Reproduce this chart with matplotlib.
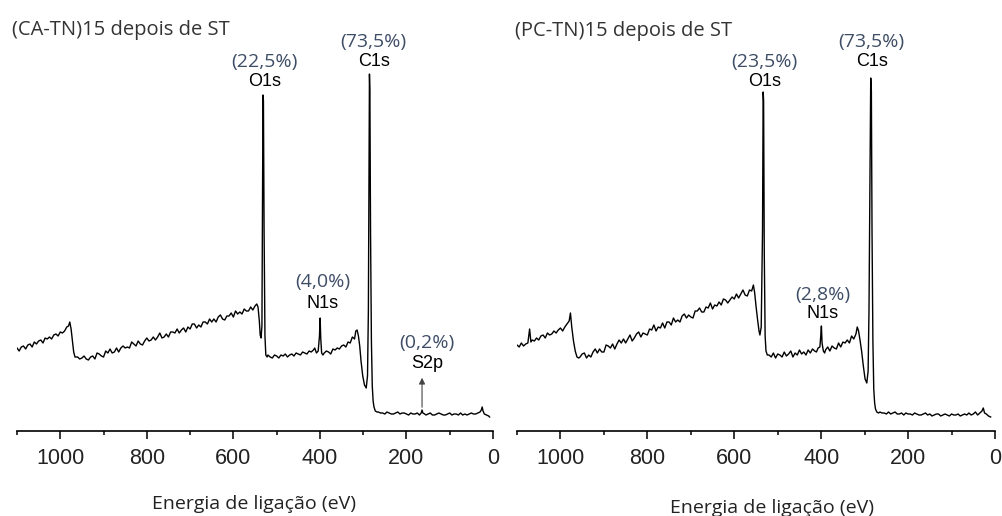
import matplotlib.pyplot as plt

# (CA-TN)15 spectrum: binding energy (eV) and intensity (a.u.)
ca_energy = [1100, 1095, 1090, 1085, 1080, 1075, 1070, 1065, 1060, 1055, 1050, 1045, 1040, 1035, 1030,
             1025, 1020, 1015, 1010, 1005, 1000, 995, 990, 985, 981, 978, 975, 972, 969, 966,
             960, 955, 950, 945, 940, 935, 930, 925, 920, 915, 910, 905, 900, 895, 890, 885, 880, 875,
             870, 865, 860, 855, 850, 845, 840, 835, 830, 825, 820, 815, 810, 805, 800, 795, 790, 785,
             780, 775, 770, 765, 760, 755, 750, 745, 740, 735, 730, 725, 720, 715, 710, 705, 700, 695,
             690, 685, 680, 675, 670, 665, 660, 655, 650, 645, 640, 635, 630, 625, 620, 615, 610, 605,
             600, 595, 590, 585, 580, 575, 570, 565, 560, 555, 550, 546, 543, 540, 538, 536, 534,
             532.5, 531.5, 530.5, 529, 527, 525, 522,
             520, 515, 510, 505, 500, 495, 490, 485, 480, 475, 470, 465, 460, 455, 450, 445, 440, 435,
             430, 425, 420, 415, 412, 408, 404, 401, 399.5, 398, 396, 393,
             390, 385, 380, 375, 370, 365, 360, 355, 350, 345, 340, 335, 330, 325, 320, 317, 314, 311,
             308, 305, 301, 297, 293, 290, 288, 286.5, 285.5, 284.5, 283, 281, 279, 277, 275, 272, 268,
             265, 260, 255, 250, 245, 240, 235, 230, 225, 220, 215, 210, 205, 200, 195, 190, 185, 180,
             175, 170, 166, 164, 162, 158, 155, 150, 145, 140, 135, 130, 125, 120, 115, 110, 105, 100,
             95, 90, 85, 80, 75, 70, 65, 60, 55, 50, 45, 40, 35, 30, 27, 25, 23, 20, 15, 10, 8]
ca_counts = [83, 80, 84, 85, 82, 86, 87, 84, 89, 87, 90, 91, 88, 93, 92,
             94, 92, 96, 97, 95, 99, 98, 100, 104, 105, 109, 102, 90, 79, 74,
             74, 72, 73, 75, 72, 71, 74, 75, 72, 78, 77, 75, 74, 80, 78, 82, 78, 79,
             83, 79, 83, 85, 83, 84, 83, 89, 87, 85, 90, 87, 86, 90, 93, 90, 91, 94,
             91, 94, 98, 93, 94, 97, 94, 99, 99, 98, 102, 98, 101, 103, 99, 104, 102, 107,
             107, 103, 106, 104, 109, 109, 107, 112, 109, 112, 109, 114, 116, 112, 111, 115, 115, 118,
             114, 120, 117, 119, 117, 122, 120, 120, 124, 121, 125, 127, 124, 110, 96, 93, 105,
             250, 336, 330, 200, 95, 76, 74,
             76, 74, 73, 76, 75, 73, 76, 75, 77, 74, 76, 77, 75, 78, 77, 76, 79, 78,
             77, 80, 79, 81, 83, 78, 80, 95, 113, 92, 78, 76,
             78, 80, 79, 77, 82, 81, 83, 82, 85, 86, 84, 89, 88, 94, 92, 100, 101, 95,
             85, 70, 55, 46, 43, 55, 120, 250, 357, 340, 200, 90, 45, 30, 24, 20, 19,
             19, 18, 18, 17, 19, 18, 17, 17, 18, 19, 17, 18, 18, 17, 16, 18, 17, 17,
             18, 16, 18, 21, 18, 17, 16, 17, 18, 16, 16, 17, 18, 17, 16, 16, 17, 18,
             16, 17, 17, 16, 18, 16, 17, 16, 17, 18, 17, 17, 18, 19, 21, 24, 20, 17, 16, 15, 14]

# (PC-TN)15 spectrum
pc_energy = [1100, 1095, 1090, 1085, 1080, 1075, 1071, 1068, 1065, 1060, 1055, 1050, 1045, 1040, 1035,
             1030, 1025, 1020, 1015, 1010, 1005, 1000, 995, 990, 985, 980, 977, 974, 970, 966, 962, 958,
             955, 950, 945, 940, 935, 930, 925, 920, 915, 910, 905, 900, 895, 890, 885, 880, 875,
             870, 865, 860, 855, 850, 845, 840, 835, 830, 825, 820, 815, 810, 805, 800, 795, 790, 785,
             780, 775, 770, 765, 760, 755, 750, 745, 740, 735, 730, 725, 720, 715, 710, 705, 700, 695,
             690, 685, 680, 675, 670, 665, 660, 655, 650, 645, 640, 635, 630, 625, 620, 615, 610, 605,
             600, 595, 590, 585, 580, 575, 570, 565, 560, 556, 553, 550, 546, 543, 541, 538,
             535, 533.5, 532.5, 531, 529, 527, 524,
             520, 515, 510, 505, 500, 495, 490, 485, 480, 475, 470, 465, 460, 455, 450, 445, 440, 435,
             430, 425, 420, 415, 411, 407, 403, 401, 399.5, 398, 395, 392,
             390, 385, 380, 375, 370, 365, 360, 355, 350, 345, 340, 335, 330, 325, 320, 317, 314, 311,
             307, 303, 299, 295, 292, 290, 288, 286, 284.5, 283, 281, 279, 277, 275, 272, 268,
             265, 260, 255, 250, 245, 240, 235, 230, 225, 220, 215, 210, 205, 200, 195, 190, 185, 180,
             175, 170, 165, 160, 155, 150, 145, 140, 135, 130, 125, 120, 115, 110, 105, 100,
             95, 90, 85, 80, 75, 70, 65, 60, 55, 50, 45, 40, 35, 30, 27, 24, 20, 15, 10]
pc_counts = [86, 84, 88, 85, 87, 88, 102, 89, 91, 90, 93, 91, 95, 96, 93,
             98, 96, 97, 100, 98, 101, 103, 100, 104, 107, 110, 118, 104, 90, 80, 74, 73,
             74, 77, 78, 73, 76, 74, 79, 82, 78, 82, 79, 79, 86, 85, 83, 87, 82,
             87, 91, 88, 92, 88, 92, 96, 90, 93, 97, 99, 94, 98, 97, 96, 102, 101, 106,
             100, 104, 103, 108, 103, 109, 109, 106, 113, 109, 111, 109, 115, 117, 113, 116, 114, 113,
             120, 120, 123, 119, 119, 124, 123, 128, 122, 126, 125, 129, 126, 132, 131, 128, 131, 134,
             132, 137, 133, 137, 141, 136, 135, 141, 140, 146, 138, 125, 110, 100, 96, 104,
             200, 339, 330, 180, 95, 80, 76,
             76, 74, 78, 73, 77, 76, 74, 79, 75, 77, 80, 74, 78, 76, 81, 77, 79, 76,
             81, 78, 82, 80, 79, 83, 84, 95, 105, 88, 80, 78,
             81, 84, 80, 85, 83, 82, 88, 84, 89, 88, 91, 88, 95, 92, 97, 104, 100, 92,
             80, 65, 52, 48, 60, 120, 230, 353, 340, 200, 90, 42, 28, 22, 19, 18,
             19, 18, 18, 17, 19, 17, 18, 19, 17, 17, 18, 16, 18, 17, 17, 16, 18, 17,
             16, 16, 17, 18, 16, 17, 15, 16, 17, 17, 15, 16, 17, 16, 15, 17, 16, 16,
             17, 15, 16, 17, 16, 18, 16, 17, 19, 16, 18, 20, 23, 18, 17, 15, 14]

titles = ['(CA-TN)15 depois de ST', '(PC-TN)15 depois de ST']
xlabel = 'Energia de ligação (eV)'
xticks = [1000, 800, 600, 400, 200, 0]

# peak labels: (name, percentage, energy, y of percentage, y of name)
ca_peaks = [('O1s', '(22,5%)', 528, 369, 349),
            ('C1s', '(73,5%)', 276, 389, 369),
            ('N1s', '(4,0%)', 394, 149, 128),
            ('S2p', '(0,2%)', 153, 88, 68)]
pc_peaks = [('O1s', '(23,5%)', 530, 369, 349),
            ('C1s', '(73,5%)', 284, 389, 369),
            ('N1s', '(2,8%)', 397, 136, 118)]

pct_color = '#3e4d66'

fig = plt.figure(figsize=(10.03, 5.16), dpi=100)
ax1 = fig.add_axes([17 / 1003, 85 / 516, 476 / 1003, 360 / 516])
ax2 = fig.add_axes([517 / 1003, 85 / 516, 478 / 1003, 360 / 516])

for ax, e, c, peaks in [(ax1, ca_energy, ca_counts, ca_peaks), (ax2, pc_energy, pc_counts, pc_peaks)]:
    ax.plot(e, c, color='black', lw=1.0)
    ax.set_xlim(1100, 0)
    ax.set_ylim(0, 360)
    for s in ['top', 'left', 'right']:
        ax.spines[s].set_visible(False)
    ax.spines['bottom'].set_linewidth(1.2)
    ax.set_yticks([])
    ax.set_xticks(xticks)
    ax.set_xticks([1100, 900, 700, 500, 300, 100], minor=True)
    ax.tick_params(axis='x', which='major', length=6, width=1.1, pad=6)
    ax.tick_params(axis='x', which='minor', length=3, width=1.1)
    for lab in ax.get_xticklabels():
        lab.set_fontfamily('Liberation Sans')
        lab.set_fontsize(15.5)
        lab.set_color('#222222')
    for name, pct, x, ypct, yname in peaks:
        ax.text(x, ypct, pct, ha='center', va='center', fontsize=14,
                family='Open Sans', color=pct_color, clip_on=False)
        ax.text(x, yname, name, ha='center', va='center', fontsize=13,
                family='Liberation Sans', color='black', clip_on=False)

ax1.annotate('', xy=(164, 56), xytext=(164, 21),
             arrowprops=dict(arrowstyle='-|>', color='#444444', lw=0.8, mutation_scale=9))

fig.text(12 / 1003, 0.932, titles[0], fontsize=14.5, family='Open Sans', color='#333333', va='baseline')
fig.text(515 / 1003, 0.930, titles[1], fontsize=14.5, family='Open Sans', color='#333333', va='baseline')
fig.text(152 / 1003, 0.0136, xlabel, fontsize=14, family='Open Sans', color='#222222', va='baseline')
fig.text(670 / 1003, 0.0058, xlabel, fontsize=14, family='Open Sans', color='#222222', va='baseline')

fig.savefig('out.png', dpi=100)
